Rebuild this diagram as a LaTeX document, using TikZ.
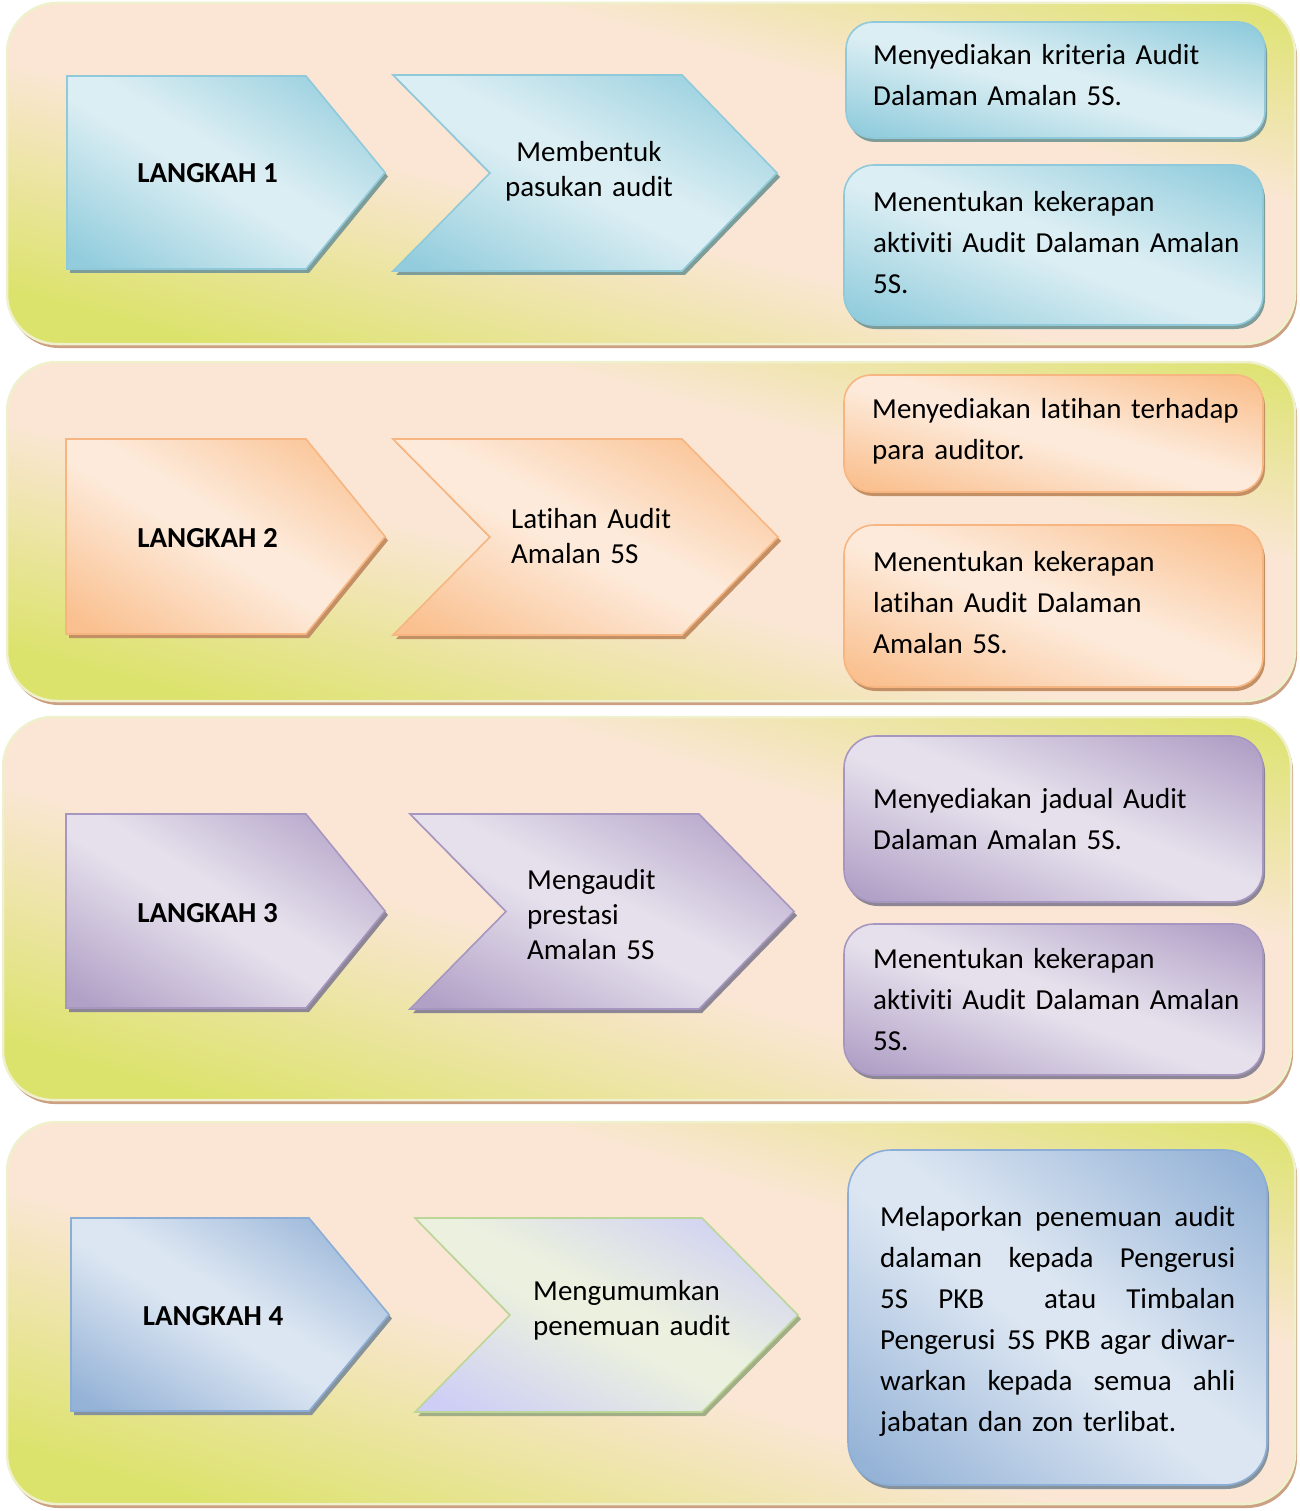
\documentclass[tikz,border=0pt]{standalone}
\usepackage{fontspec}
\setmainfont{Carlito}[Ligatures={NoCommon,NoContextual}]

% edge and drop-shadow colours
\definecolor{panEdge}{HTML}{EEF1CC}
\definecolor{panShadow}{HTML}{CCA082}
\definecolor{bluEdge}{HTML}{8FC9DA}
\definecolor{bluShadow}{HTML}{7E9C98}
\definecolor{oraEdge}{HTML}{F7B681}
\definecolor{oraShadow}{HTML}{C39066}
\definecolor{purEdge}{HTML}{A797C0}
\definecolor{purShadow}{HTML}{8D8694}
\definecolor{stlEdge}{HTML}{8CAED6}
\definecolor{stlShadow}{HTML}{87939A}
\definecolor{grnEdge}{HTML}{BCD698}
\definecolor{grnShadow}{HTML}{A2AE86}

% Diagonal gradient across the bounding box: a light band from the top-left
% to the bottom-right corner, darkening towards the other two corners.
% Arguments: name, light r g b, (dark - light) r g b.
\newcommand\mkdiag[7]{%
  \pgfdeclarefunctionalshading{#1}{\pgfpointorigin}{\pgfpoint{100bp}{100bp}}{}{%
    add 100 div 1 sub abs 0.05 sub 0.40 div
    dup 0 lt {pop 0} if dup 1 gt {pop 1} if
    dup dup
    #5 mul #2 add 3 1 roll
    #6 mul #3 add exch
    #7 mul #4 add}}
\mkdiag{shBlu}{0.859}{0.933}{0.953}{-0.283}{-0.129}{-0.086}
\mkdiag{shOra}{0.992}{0.918}{0.855}{-0.012}{-0.165}{-0.294}
\mkdiag{shPur}{0.898}{0.878}{0.925}{-0.200}{-0.247}{-0.145}
\mkdiag{shStl}{0.863}{0.902}{0.949}{-0.279}{-0.200}{-0.106}
\mkdiag{shGrn}{0.922}{0.945}{0.871}{-0.118}{-0.141}{0.094}
% background panels: peach band, yellow-green towards bottom-left and top-right
\pgfdeclarefunctionalshading{shPan}{\pgfpointorigin}{\pgfpoint{100bp}{100bp}}{}{%
  add 100 div 1 sub
  dup 0 lt {neg 0.08 sub 0.34 div} {0.20 sub 0.30 div} ifelse
  dup 0 lt {pop 0} if dup 1 gt {pop 1} if
  dup dup
  -0.121 mul 0.984 add 3 1 roll
  -0.012 mul 0.902 add exch
  -0.415 mul 0.839 add}

\tikzset{
  bluface/.style={shading=shBlu, draw=bluEdge, line width=1.6pt},
  oraface/.style={shading=shOra, draw=oraEdge, line width=1.6pt},
  purface/.style={shading=shPur, draw=purEdge, line width=1.6pt},
  stlface/.style={shading=shStl, draw=stlEdge, line width=1.6pt},
  grnface/.style={shading=shGrn, draw=grnEdge, line width=1.6pt},
  blushadow/.style={fill=bluShadow},
  orashadow/.style={fill=oraShadow},
  purshadow/.style={fill=purShadow},
  stlshadow/.style={fill=stlShadow},
  grnshadow/.style={fill=grnShadow},
  panelface/.style={shading=shPan, draw=panEdge, line width=2.5pt, rounded corners=50pt},
  panelshadow/.style={fill=panShadow, rounded corners=50pt},
  steplabel/.style={inner sep=0pt, anchor=base, font=\fontsize{29}{35}\selectfont\bfseries},
  chevtext/.style={inner sep=0pt, text width=240pt, align=left, font=\fontsize{29}{35}\selectfont},
  cardtext/.style={inner sep=0pt, anchor=base west, text width=400pt, align=left, font=\fontsize{29}{41}\selectfont},
}

% one justified line of the long card text
\newcommand\jline[1]{\leavevmode\hbox to 355pt{#1}}

% pentagon: scheme, left, top, bottom, shoulder x, tip x
\newcommand\pentagon[6]{%
  \fill[#1shadow, shift={(3,4)}] (#2,#3) -- (#5,#3) -- (#6,{(#3+#4)/2}) -- (#5,#4) -- (#2,#4) -- cycle;
  \draw[#1face] (#2,#3) -- (#5,#3) -- (#6,{(#3+#4)/2}) -- (#5,#4) -- (#2,#4) -- cycle;}
% chevron: scheme, left, notch x, top, bottom, shoulder x, tip x
\newcommand\chevron[7]{%
  \fill[#1shadow, shift={(3,4)}] (#2,#4) -- (#6,#4) -- (#7,{(#4+#5)/2}) -- (#6,#5) -- (#2,#5) -- (#3,{(#4+#5)/2}) -- cycle;
  \draw[#1face] (#2,#4) -- (#6,#4) -- (#7,{(#4+#5)/2}) -- (#6,#5) -- (#2,#5) -- (#3,{(#4+#5)/2}) -- cycle;}
% rounded card: scheme, left, top, right, bottom, corner radius
\newcommand\card[6]{%
  \fill[#1shadow, rounded corners=#6pt, shift={(2,4)}] (#2,#3) rectangle (#4,#5);
  \draw[#1face, rounded corners=#6pt] (#2,#3) rectangle (#4,#5);}
% panel: left, top, right, bottom
\newcommand\panel[4]{%
  \fill[panelshadow, shift={(2,4)}] (#1,#2) rectangle (#3,#4);
  \draw[panelface] (#1,#2) rectangle (#3,#4);}

\begin{document}
\begin{tikzpicture}[x=1pt, y=-1pt]
\useasboundingbox (0,0) rectangle (1299,1511);

% background panels
\panel{7}{3}{1295}{344}
\panel{7}{362}{1295}{701}
\panel{3}{717}{1291}{1100}
\panel{7}{1122}{1295}{1504}

% row 1
\pentagon{blu}{67}{76}{269}{306}{385}
\chevron{blu}{393}{490}{75}{271}{682}{777}
\card{blu}{846}{22}{1265}{138}{27}
\card{blu}{844}{165}{1263}{325}{30}
\node[steplabel] (s1) at (207.5,183) {LANGKAH 1};
\node[chevtext, align=center, anchor=base] (c1) at (589,162) {Membentuk\\pasukan audit};
\node[cardtext] (a1) at (873,65) {Menyediakan kriteria Audit\\Dalaman Amalan 5S.};
\node[cardtext] (b1) at (873,212) {Menentukan kekerapan\\aktiviti Audit Dalaman Amalan\\5S.};

% row 2
\pentagon{ora}{66}{439}{634}{306}{385}
\chevron{ora}{393}{490}{439}{635}{682}{778}
\card{ora}{844}{375}{1263}{492}{27}
\card{ora}{844}{525}{1263}{687}{30}
\node[steplabel] (s2) at (207.5,547) {LANGKAH 2};
\node[chevtext, anchor=base west] (c2) at (511,528) {Latihan Audit\\Amalan 5S};
\node[cardtext] (a2) at (872,418) {Menyediakan latihan terhadap\\para auditor.};
\node[cardtext] (b2) at (873,571) {Menentukan kekerapan\\latihan Audit Dalaman\\Amalan 5S.};

% row 3
\pentagon{pur}{66}{814}{1008}{306}{385}
\chevron{pur}{410}{506}{814}{1009}{699}{794}
\card{pur}{844}{736}{1263}{902}{32}
\card{pur}{844}{924}{1263}{1075}{30}
\node[steplabel] (s3) at (207.5,922) {LANGKAH 3};
\node[chevtext, anchor=base west] (c3) at (527,889) {Mengaudit\\prestasi\\Amalan 5S};
\node[cardtext] (a3) at (873,808) {Menyediakan jadual Audit\\Dalaman Amalan 5S.};
\node[cardtext] (b3) at (873,968) {Menentukan kekerapan\\aktiviti Audit Dalaman Amalan\\5S.};

% row 4
\pentagon{stl}{71}{1218}{1411}{309}{389}
\chevron{grn}{415}{510}{1218}{1412}{702}{798}
\card{stl}{848}{1150}{1267}{1485}{43}
\node[steplabel] (s4) at (213,1325) {LANGKAH 4};
\node[chevtext, anchor=base west] (c4) at (533,1300) {Mengumumkan\\penemuan audit};
\node[cardtext] (a4) at (880,1226) {%
  \jline{Melaporkan\hfil penemuan\hfil audit}\\
  \jline{dalaman\hfil kepada\hfil Pengerusi}\\
  \jline{5S\hfil PKB\hfil\hfil atau\hfil Timbalan}\\
  \jline{Pengerusi\hfil\ 5S PKB agar diwar-}\\
  \jline{warkan\hfil kepada\hfil semua\hfil ahli}\\
  jabatan dan zon terlibat.};
\end{tikzpicture}
\end{document}
